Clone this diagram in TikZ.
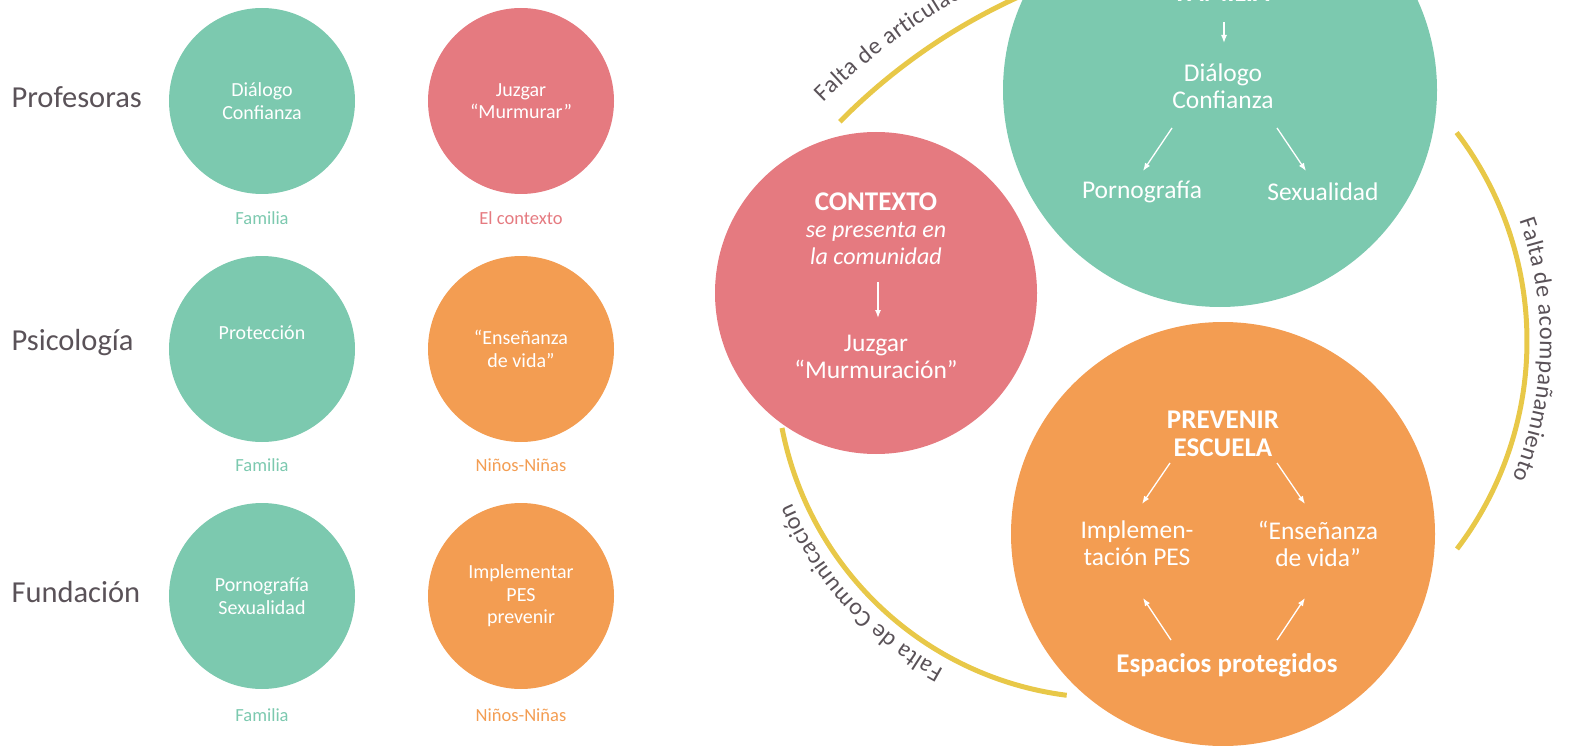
\documentclass[tikz,border=0pt]{standalone}
\usepackage{fontspec}
\setmainfont{Carlito}
\usetikzlibrary{arrows.meta,calc,decorations.text}
\definecolor{famgreen}{RGB}{124,201,175}
\definecolor{ctxred}{RGB}{229,122,128}
\definecolor{kidorange}{RGB}{243,157,82}
\definecolor{rimyellow}{RGB}{232,200,72}
\definecolor{txtgray}{RGB}{90,82,88}
\tikzset{
  bubble/.style={circle, fill=#1, minimum size=186pt, inner sep=0pt,
    text=white, align=center, font=\fontsize{20}{22.5}\selectfont},
  tag/.style={text=#1, font=\fontsize{18.5}{20}\selectfont},
  rowname/.style={anchor=west, text=txtgray, font=\fontsize{30.5}{31}\selectfont},
  big/.style={circle, fill=#1, inner sep=0pt},
  intext/.style={text=white, align=center, inner sep=0pt, font=\fontsize{25.5}{27}\selectfont},
  head/.style={intext, font=\fontsize{27}{28}\selectfont\bfseries},
  arr/.style={->, draw=white, line width=1.3pt},
  rim/.style={draw=rimyellow, line width=5pt},
  rimtext/.style={decorate, decoration={text along path, text color=txtgray,
    raise=13pt, text={|\fontsize{24}{24}\selectfont|#1}}},
}
\tikzset{>={Latex[length=8pt,width=6pt]}}
\begin{document}
\begin{tikzpicture}[x=1pt,y=1pt]
\useasboundingbox (0,0) rectangle (1577,-746);
\clip (0,0) rectangle (1577,-746);

% left: three rows
\node[rowname] at (8,-97) (prof) {Profesoras};
\node[rowname] at (8,-343) (psic) {Psicología};
\node[rowname] at (8,-592) (fund) {Fundación};

\node[bubble=famgreen] at (262,-101) (dial) {Diálogo\\Confianza};
\node[bubble=ctxred] at (521,-101) (murm) {Juzgar\\“Murmurar”};
\node[bubble=famgreen] at (262,-349) (prot) {Protección\\[10pt]};
\node[bubble=kidorange] at (521,-349) (vida) {“Enseñanza\\de vida”};
\node[bubble=famgreen] at (262,-596) (sexo) {Pornografía\\Sexualidad};
\node[bubble=kidorange] at (521,-596) (impes) {Implementar\\PES\\prevenir};

\node[tag=famgreen] at (262,-218) (fam1) {Familia};
\node[tag=ctxred] at (521,-218) (ctx1) {El contexto};
\node[tag=famgreen] at (262,-465) (fam2) {Familia};
\node[tag=kidorange] at (521,-465) (kid2) {Niños-Niñas};
\node[tag=famgreen] at (262,-715) (fam3) {Familia};
\node[tag=kidorange] at (521,-715) (kid3) {Niños-Niñas};

% right: the three big circles
\node[big=famgreen, minimum size=434pt] at (1220,-90) (famc) {};
\node[big=ctxred, minimum size=322pt] at (876,-293) (ctxc) {};
\node[big=kidorange, minimum size=424pt] at (1223,-534) (escc) {};

\node[head, anchor=base] at (1223,-2) (famt) {FAMILIA};
\node[intext] at (1223,-86.5) (dlg) {Diálogo\\Confianza};
\node[intext] at (1142,-192) (porno) {Pornografía};
\node[intext] at (1323,-192) (sexu) {Sexualidad};

\node[head] at (876,-202) (ctx) {CONTEXTO};
\node[intext, font=\fontsize{24}{27}\selectfont\itshape] at (876,-243.5) (pres) {se presenta en\\la comunidad};
\node[intext] at (876,-356.5) (juz) {Juzgar\\“Murmuración”};

\node[head] at (1223,-433.5) (prev) {PREVENIR\\ESCUELA};
\node[intext] at (1137,-543.5) (impl) {Implemen-\\tación PES};
\node[intext] at (1318,-543.5) (ense) {“Enseñanza\\de vida”};
\node[head] at (1227,-665) (esp) {Espacios protegidos};

\draw[arr] ($(famt.base)+(1,-20)$) -- ($(dlg)+(1,43.5)$);
\draw[arr] ($(dlg)+(-51,-41.5)$) -- ($(porno)+(1,21)$);
\draw[arr] ($(dlg)+(54,-41.5)$) -- ($(sexu)+(-17,21)$);
\draw[arr] ($(pres)+(2,-38.5)$) -- ($(juz)+(2,38.5)$);
\draw[arr] ($(prev)+(-53,-29.5)$) -- ($(impl)+(5,39.5)$);
\draw[arr] ($(prev)+(54,-29.5)$) -- ($(ense)+(-13,39.5)$);
\draw[arr] ($(esp)+(-56,25)$) -- ($(impl)+(6,-54.5)$);
\draw[arr] ($(esp)+(50,25)$) -- ($(ense)+(-13,-54.5)$);

% yellow rims with their labels
\coordinate (rimA) at (1267,-543);
\coordinate (rimB) at (1183,-341);
\coordinate (rimC) at (1109,-365);

\draw[rim] ([shift={(135.4:600)}]rimA) arc[start angle=135.4, end angle=100, radius=600];
\path[rimtext=Falta de articulación, decoration={raise=25pt}] ([shift={(135.2:600)}]rimA) arc[start angle=135.2, end angle=100, radius=600];

\draw[rim] ([shift={(37.3:344)}]rimB) arc[start angle=37.3, end angle=-37.2, radius=344];
\path[rimtext=Falta de acompañamiento, decoration={text align=center}] ([shift={(36:344)}]rimB) arc[start angle=36, end angle=-39, radius=344];

\draw[rim] ([shift={(262.7:333)}]rimC) arc[start angle=262.7, end angle=190.9, radius=333];
\path[rimtext=Falta de Comunicación, decoration={text align=center}] ([shift={(258:333)}]rimC) arc[start angle=258, end angle=187, radius=333];
\end{tikzpicture}
\end{document}
